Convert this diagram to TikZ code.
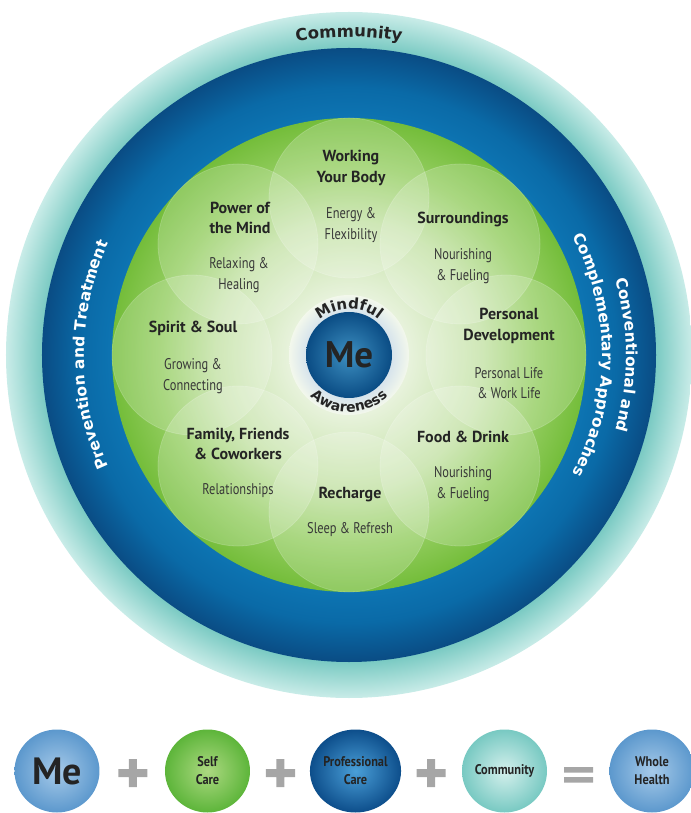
\documentclass[tikz,border=0pt]{standalone}
\usepackage{fontspec}
\setmainfont{PT Sans}
\newfontfamily\subfont[FakeStretch=0.8]{PT Sans}
\newfontfamily\smallfont[FakeStretch=0.88]{PT Sans}
\newfontfamily\ringfont{DejaVu Sans}
\usetikzlibrary{fadings, decorations.text, shapes.geometric}

\definecolor{tealdeep}{HTML}{78C9C2}
\definecolor{tealmid}{HTML}{9FDAD4}
\definecolor{tealpale}{HTML}{C9ECE8}
\definecolor{blueinner}{HTML}{0D74B2}
\definecolor{bluemid}{HTML}{0A6AA7}
\definecolor{bluedark}{HTML}{0A4C84}
\definecolor{greenpale}{HTML}{F3F8EC}
\definecolor{greensoft}{HTML}{E9F3DE}
\definecolor{greenmid}{HTML}{C4E2A6}
\definecolor{greenleaf}{HTML}{95CE62}
\definecolor{greenedge}{HTML}{74BD3A}
\definecolor{haloblue}{HTML}{D3E1EC}
\definecolor{inkdark}{HTML}{242424}
\definecolor{inkgray}{HTML}{383838}
\definecolor{opgray}{HTML}{A6A6A6}
\definecolor{skyedge}{HTML}{5C98CD}
\definecolor{skycore}{HTML}{A6CAE9}
\definecolor{selfedge}{HTML}{5DB53A}
\definecolor{selfcore}{HTML}{ACD981}
\definecolor{profcore}{HTML}{4A9FD8}
\definecolor{profedge}{HTML}{0D4E8B}

\pgfdeclareradialshading{community ring}{\pgfpoint{0bp}{0bp}}{%
  color(0bp)=(tealdeep); color(22.3bp)=(tealdeep); color(23.6bp)=(tealmid);
  color(25bp)=(tealpale); color(50bp)=(tealpale)}
\pgfdeclareradialshading{care ring}{\pgfpoint{0bp}{0bp}}{%
  color(0bp)=(blueinner); color(19.3bp)=(blueinner); color(21.8bp)=(bluemid);
  color(25bp)=(bluedark); color(50bp)=(bluedark)}
\pgfdeclareradialshading{self ring}{\pgfpoint{0bp}{0bp}}{%
  color(0bp)=(greenpale); color(6bp)=(greensoft); color(14bp)=(greenmid);
  color(20bp)=(greenleaf); color(25bp)=(greenedge); color(50bp)=(greenedge)}
\pgfdeclareradialshading{me halo}{\pgfpoint{0bp}{0bp}}{%
  color(0bp)=(haloblue); color(17bp)=(haloblue); color(25bp)=(greenpale);
  color(50bp)=(greenpale)}

\tikzfading[name=fade sides, left color=transparent!100,
  middle color=transparent!0, right color=transparent!100]

\begin{document}
\begin{tikzpicture}[x=1pt, y=1pt,
    ttl/.style={font=\bfseries\fontsize{16}{20.5}\selectfont, text=inkdark, align=center, inner sep=0pt},
    sub/.style={font=\subfont\fontsize{15.5}{20.5}\selectfont, text=inkgray, align=center, inner sep=0pt},
    ball/.style={ellipse, minimum width=85pt, minimum height=83pt, inner sep=0pt, text=inkdark, align=center,
      font=\smallfont\bfseries\fontsize{14}{18}\selectfont}]
  \useasboundingbox (-349,-458) rectangle (341,355);

  % rings
  \shade[shading=community ring] (0,0) circle [radius=343pt];
  \shade[shading=care ring] (0,0) circle [radius=307pt];
  \shade[shading=self ring] (0,0) circle [radius=237pt];

  % petals
  \foreach \a in {0,45,...,315}
    \fill[white, fill opacity=0.2] (\a:157pt) circle [radius=80pt];
  \foreach \a in {0,45,...,315}
    \draw[white, opacity=0.18, line width=0.8pt] (\a:157pt) circle [radius=80pt];

  % ring labels
  \path[decorate, decoration={text along path, text align=center,
      text={|\ringfont\bfseries\fontsize{16.5}{16.5}\selectfont\color{inkdark}|Community}}]
    (120:318pt) arc [start angle=120, end angle=60, radius=318pt];
  \path[decorate, decoration={text along path, text align=center, text color=white,
      text={|\ringfont\bfseries\fontsize{15.5}{15.5}\selectfont|Prevention and Treatment}}]
    (215:265pt) arc [start angle=215, end angle=145, radius=265pt];
  \path[decorate, decoration={text along path, text align=center, text color=white,
      text={|\ringfont\bfseries\fontsize{15.5}{15.5}\selectfont|Conventional and}}]
    (35:277pt) arc [start angle=35, end angle=-35, radius=277pt];
  \path[decorate, decoration={text along path, text align=center, text color=white,
      text={|\ringfont\bfseries\fontsize{15.5}{15.5}\selectfont|Complementary Approaches}}]
    (36:253pt) arc [start angle=36, end angle=-36, radius=253pt];

  % centre
  \shade[shading=me halo] (0,0) circle [radius=60pt];
  \node[circle, minimum size=86pt, inner sep=0pt, inner color=blueinner!80!white, outer color=bluedark,
    text=inkdark, font=\bfseries\fontsize{37}{37}\selectfont] (me) at (0,0) {Me};
  \path[decorate, decoration={text along path, text align=center,
      text={|\ringfont\bfseries\fontsize{15}{15}\selectfont\color{inkdark}|Mindful}}]
    (145:46pt) arc [start angle=145, end angle=35, radius=46pt];
  \path[decorate, decoration={text along path, text align=center,
      text={|\ringfont\bfseries\fontsize{14}{14}\selectfont\color{inkdark}|Awareness}}]
    (200:57pt) arc [start angle=200, end angle=340, radius=57pt];

  % petal labels
  \node[ttl] (body) at (2,187) {Working\\Your Body};
  \node[sub] (body-sub) at (2,130) {Energy \&\\Flexibility};
  \node[ttl] (surr) at (114,136) {Surroundings};
  \node[sub] (surr-sub) at (114,89) {Nourishing\\\& Fueling};
  \node[ttl] (mind) at (-109,137) {Power of\\the Mind};
  \node[sub] (mind-sub) at (-110,80) {Relaxing \&\\Healing};
  \node[ttl] (pers) at (160,29) {Personal\\Development};
  \node[sub] (pers-sub) at (160,-28) {Personal Life\\\& Work Life};
  \node[ttl] (soul) at (-156,27) {Spirit \& Soul};
  \node[sub] (soul-sub) at (-156,-21) {Growing \&\\Connecting};
  \node[ttl] (family) at (-111,-89) {Family, Friends\\\& Coworkers};
  \node[sub] (family-sub) at (-111,-136) {Relationships};
  \node[ttl] (food) at (114,-82) {Food \& Drink};
  \node[sub] (food-sub) at (114,-129) {Nourishing\\\& Fueling};
  \node[ttl] (rest) at (1,-140) {Recharge};
  \node[sub] (rest-sub) at (1,-175) {Sleep \& Refresh};

  \foreach \x/\y in {2/158, 114/118, -109/108, 160/0, -156/9, -111/-119, 114/-100, 1/-158}
    \fill[inkdark, path fading=fade sides] (\x-38,\y-0.7) rectangle (\x+38,\y+0.7);

  % bottom row
  \node[ball, inner color=skycore, outer color=skyedge,
    font=\bfseries\fontsize{38}{38}\selectfont] (me-ball) at (-292,-416) {Me};
  \node[ball, inner color=selfcore, outer color=selfedge] (self-ball) at (-141.5,-416) {Self\\Care};
  \node[ball, inner color=profcore, outer color=profedge] (prof-ball) at (6.5,-416) {Professional\\Care};
  \node[ball, inner color=tealpale!80!white, outer color=tealdeep] (comm-ball) at (155.5,-416) {Community};
  \node[ball, inner color=skycore, outer color=skyedge] (whole-ball) at (303,-416) {Whole\\Health};

  \foreach \x in {-216,-68.5,82}
    \fill[opgray] (\x-14.5,-422) rectangle (\x+14.5,-414) (\x-4,-432) rectangle (\x+4,-404);
  \fill[opgray] (215,-412) rectangle (244,-417.5) (215,-422) rectangle (244,-427.5);
\end{tikzpicture}
\end{document}
